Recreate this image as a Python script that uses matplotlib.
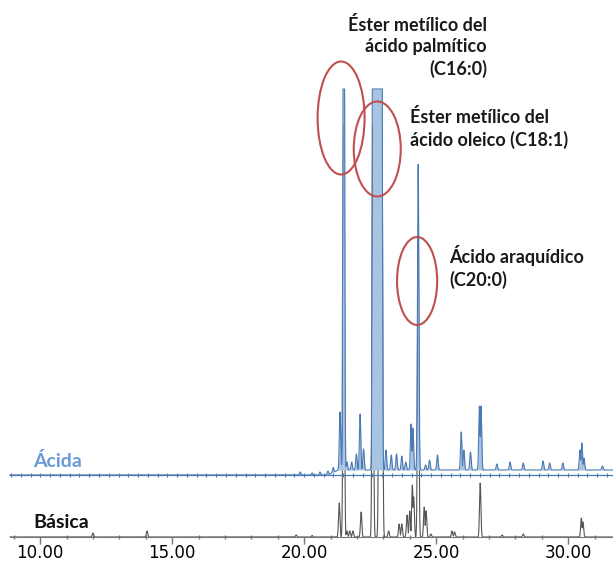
import numpy as np
import matplotlib.pyplot as plt
from matplotlib.patches import Ellipse
from matplotlib.ticker import MultipleLocator, FormatStrFormatter

# retention time (min) and peak height (signal units);
# the biggest peaks run off scale and are flattened at the detector limit
acid_rt = [19.85, 20.3, 20.6, 20.9, 21.1, 21.36, 21.5, 21.62, 21.8, 21.98,
           22.12, 22.25, 22.62, 22.68, 22.74, 22.8, 22.86, 22.92, 23.1, 23.3,
           23.5, 23.7, 23.85, 24.05, 24.12, 24.32, 24.6, 24.75, 25.05, 25.95,
           26.05, 26.3, 26.64, 26.7, 27.3, 27.8, 28.3, 29.05, 29.3, 29.8,
           30.45, 30.52, 30.6, 31.3]
acid_height = [3, 2, 3, 4, 5, 58, 900, 8, 8, 16,
               56, 21, 1500, 1500, 1500, 1500, 1500, 1500, 20, 15,
               16, 14, 8, 46, 42, 306, 5, 10, 15, 38,
               20, 18, 64, 64, 6, 8, 7, 9, 7, 7,
               20, 27, 12, 4]
acid_limit = 381
acid_drift_rt = [8.85, 20.9, 21.3, 31.7]
acid_drift = [0, 0, 5, 5]

basic_rt = [12.0, 14.05, 19.7, 20.3, 21.33, 21.5, 21.62, 21.73, 21.85, 22.16,
            22.6, 22.85, 22.95, 23.2, 23.6, 23.7, 23.9, 24.0, 24.1, 24.15,
            24.32, 24.55, 24.62, 24.8, 25.6, 25.7, 26.67, 27.5, 28.3, 30.5,
            30.56]
basic_height = [4, 6, 2, 1.5, 34, 412, 6, 6, 6, 25,
                412, 412, 412, 6, 13, 13, 22, 26, 52, 40,
                300, 30, 26, 3, 6, 5, 54, 2, 3, 19,
                15]

tick_values = [10, 15, 20, 25, 30]

labels = {
    "palmitic": "Éster metílico del\nácido palmítico\n(C16:0)",
    "oleic": "Éster metílico del\nácido oleico (C18:1)",
    "arachidic": "Ácido araquídico\n(C20:0)",
}

acid_offset = 62
t = np.linspace(8.85, 31.7, 8000)


def trace(rt, height, sigma=0.026):
    rt = np.asarray(rt)[:, None]
    h = np.asarray(height, dtype=float)[:, None]
    return (h * np.exp(-0.5 * ((t - rt) / sigma) ** 2)).max(axis=0)


basic = trace(basic_rt, basic_height)
acid_base = acid_offset + np.interp(t, acid_drift_rt, acid_drift)
acid = acid_base + np.minimum(trace(acid_rt, acid_height), acid_limit)

fig = plt.figure(figsize=(6.13, 5.63), dpi=100)
ax = fig.add_axes([0, 26 / 563, 1, 537 / 563])
ax.set_xlim(8.48, 31.7)
ax.set_ylim(0, 537)

ax.plot(t, basic, color="#555555", lw=0.8, zorder=2)

ax.fill_between(t, acid_base, acid, color="#a9c3e3", lw=0, zorder=3)
ax.plot(t, acid, color="#4a7ab3", lw=0.8, zorder=4)
ax.plot([8.85, 31.7], [acid_offset, acid_offset], color="#4a7ab3", lw=0.9, zorder=4)
marks = np.arange(8.9, 31.7, 0.37)
ax.plot(marks, np.full_like(marks, acid_offset), ls="none", marker="|",
        ms=3, mew=0.8, color="#4a7ab3", zorder=4)

for s in ["left", "right", "top"]:
    ax.spines[s].set_visible(False)
ax.spines["bottom"].set_bounds(8.86, 31.7)
ax.spines["bottom"].set_color("#777777")
ax.set_yticks([])
ax.set_xticks(tick_values)
ax.xaxis.set_minor_locator(MultipleLocator(1))
ax.xaxis.set_major_formatter(FormatStrFormatter("%.2f"))
ax.tick_params(axis="x", which="major", length=5, width=1, color="#777777",
               direction="out", labelsize=12, pad=0)
ax.tick_params(axis="x", which="minor", length=3, width=1, color="#777777",
               direction="inout")

ring = "#c0504d"
ax.add_patch(Ellipse((21.40, 419), 1.78, 113, fill=False, ec=ring, lw=1.5, zorder=5))
ax.add_patch(Ellipse((22.77, 388), 1.78, 95, fill=False, ec=ring, lw=1.5, zorder=5))
ax.add_patch(Ellipse((24.28, 256), 1.52, 88, fill=False, ec=ring, lw=1.5, zorder=5))

txt = dict(family="Lato", fontweight="bold", fontsize=13, color="#1a1a1a",
           linespacing=1.3, zorder=6)
ax.text(26.93, 521, labels["palmitic"], ha="right", va="top",
        multialignment="right", **txt)
ax.text(24.02, 429, labels["oleic"], ha="left", va="top", **txt)
ax.text(25.49, 292, labels["arachidic"], ha="left", va="top", **txt)

ax.text(9.73, 76, "Ácida", ha="left", va="center", family="Lato",
        fontweight="bold", fontsize=14, color="#6b9bd6")
ax.text(9.73, 15, "Básica", ha="left", va="center", family="Lato",
        fontweight="bold", fontsize=14, color="#111111")

fig.savefig("out.png", dpi=100)
